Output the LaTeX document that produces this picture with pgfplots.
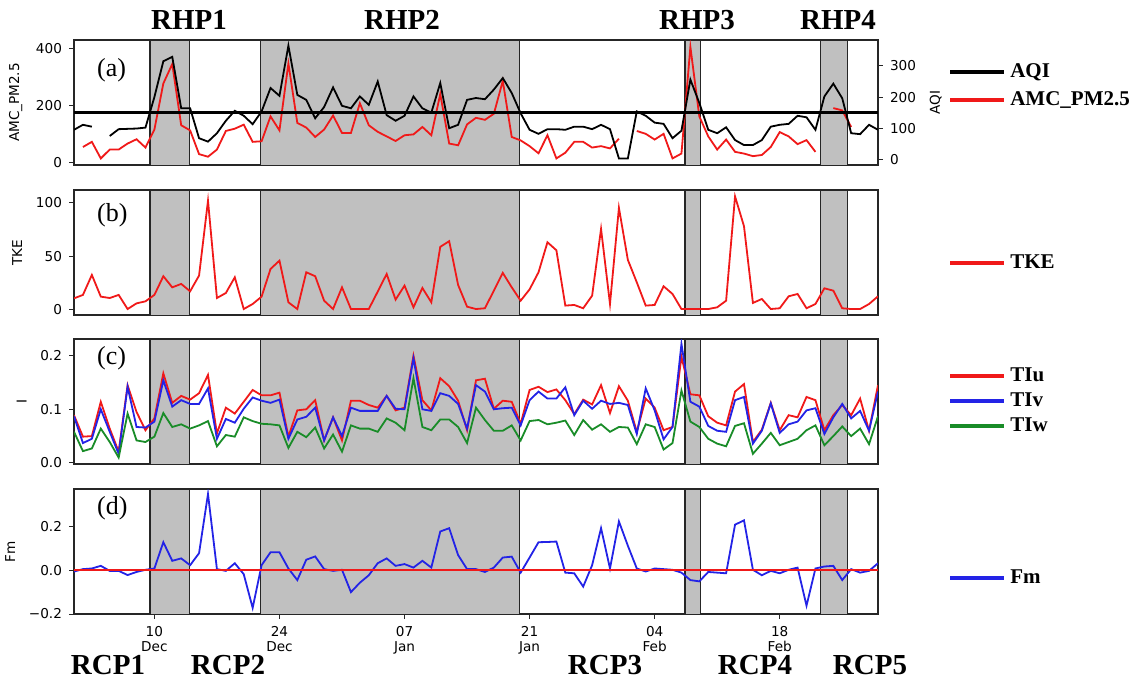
\documentclass[border=0pt]{standalone}
\usepackage{fontspec}
\setmainfont{Liberation Serif}
\newfontfamily\dejavu{DejaVu Sans}
\usepackage{pgfplots}
\pgfplotsset{compat=1.18}
\usepackage{pgfplotstable}
\definecolor{shade}{RGB}{192,192,192}
\definecolor{pred}{RGB}{240,25,25}
\definecolor{pblue}{RGB}{35,35,230}
\definecolor{pgreen}{RGB}{25,140,40}

% day index: 0 = 1 Dec
\pgfplotstableread{
d aqi pm
0 95 nan
1 111 55
2 105 73
3 nan 15
4 75 46
5 97 46
6 98 67
7 99 82
8 102 53
9 200 116
10 315 277
11 329 345
12 164 131
13 164 113
14 68 30
15 57 21
16 84 46
17 124 111
18 156 119
19 140 133
20 113 73
21 154 75
22 229 162
23 204 113
24 365 347
25 207 139
26 191 123
27 132 90
28 168 116
29 231 165
30 172 104
31 164 104
32 202 208
33 175 131
34 250 108
35 142 92
36 124 76
37 140 96
38 202 99
39 164 125
40 150 96
41 245 240
42 100 67
43 111 61
44 191 134
45 197 157
46 193 150
47 224 171
48 261 286
49 213 90
50 148 78
51 95 58
52 82 33
53 97 96
54 97 15
55 95 35
56 105 73
57 105 73
58 97 53
59 111 58
60 97 50
61 3 84
62 3 nan
63 154 111
64 140 101
65 118 81
66 114 101
67 68 15
68 92 32
69 256 405
70 181 162
71 95 92
72 84 46
73 103 81
74 62 38
75 46 32
76 46 23
77 62 27
78 105 55
79 111 107
80 114 92
81 140 65
82 135 79
83 95 38
84 202 nan
85 243 191
86 196 183
87 84 125
88 81 nan
89 111 nan
90 95 nan
}\tabA

\pgfplotstableread{
d tke
0 10.6
1 13.8
2 32.5
3 12.2
4 10.9
5 13.8
6 0.6
7 5.9
8 7.8
9 13.8
10 31.3
11 20.9
12 24.1
13 17.2
14 31.9
15 102
16 10.9
17 15.6
18 30.3
19 0.6
20 5.3
21 12.2
22 38.1
23 45.9
24 6.9
25 0.6
26 35
27 31.3
28 8.4
29 0.6
30 20.9
31 0.6
32 0.6
33 0.6
34 16.9
35 33.4
36 9.4
37 22.5
38 2.2
39 20.3
40 6.9
41 58.8
42 64.1
43 23.1
44 2.8
45 0.6
46 1.3
47 17.8
48 34.4
49 20.9
50 8.4
51 19
52 35
53 63.1
54 55.6
55 3.8
56 4.4
57 1.3
58 13.1
59 75.6
60 5.3
61 95.3
62 46.6
63 25.6
64 3.8
65 4.4
66 21.9
67 14.7
68 0.6
69 0.6
70 0.6
71 0.6
72 2.2
73 8.4
74 106
75 78.1
76 6.3
77 10
78 0.6
79 1.3
80 12.5
81 14.7
82 1.3
83 5.3
84 20
85 17.8
86 1.3
87 0.6
88 0.6
89 5.3
90 12.5
}\tabB

\pgfplotstableread{
d tiu tiv tiw
0 .089 .087 .058
1 .049 .037 .022
2 .050 .045 .027
3 .114 .100 .064
4 .064 .058 .039
5 .021 .017 .010
6 .145 .142 .092
7 .095 .067 .042
8 .061 .066 .039
9 .083 .077 .049
10 .167 .154 .093
11 .112 .105 .067
12 .125 .117 .072
13 .118 .110 .064
14 .130 .110 .070
15 .164 .139 .078
16 .055 .045 .031
17 .103 .082 .052
18 .092 .075 .049
19 .114 .101 .085
20 .136 .122 .078
21 .126 .116 .073
22 .126 .112 .072
23 .131 .118 .070
24 .049 .045 .028
25 .098 .081 .058
26 .100 .086 .048
27 .117 .103 .066
28 .042 .042 .027
29 .085 .085 .053
30 .042 .050 .021
31 .116 .103 .070
32 .116 .097 .064
33 .108 .097 .064
34 .103 .097 .058
35 .125 .125 .083
36 .098 .101 .075
37 .103 .100 .061
38 .200 .195 .158
39 .117 .100 .067
40 .098 .097 .061
41 .158 .130 .081
42 .143 .125 .081
43 .116 .110 .067
44 .061 .064 .037
45 .154 .145 .103
46 .157 .133 .080
47 .101 .100 .060
48 .116 .102 .060
49 .114 .103 .070
50 .073 .070 .042
51 .136 .117 .078
52 .142 .133 .080
53 .132 .120 .072
54 .137 .120 .075
55 .117 .141 .079
56 .091 .089 .052
57 .118 .116 .080
58 .109 .101 .062
59 .145 .116 .072
60 .093 .110 .058
61 .143 .112 .067
62 .116 .108 .066
63 .058 .054 .035
64 .120 .139 .072
65 .103 .098 .067
66 .061 .044 .025
67 .067 .067 .037
68 .198 .222 .135
69 .128 .114 .077
70 .126 .105 .067
71 .087 .069 .045
72 .075 .060 .036
73 .070 .058 .031
74 .133 .117 .069
75 .147 .123 .074
76 .039 .036 .017
77 .062 .060 .036
78 .112 .111 .056
79 .061 .056 .033
80 .089 .072 .039
81 .085 .077 .045
82 .123 .098 .061
83 .117 .102 .070
84 .061 .054 .033
85 .089 .085 .050
86 .108 .110 .068
87 .089 .083 .050
88 .120 .097 .064
89 .060 .060 .035
90 .145 .133 .087
}\tabC

\pgfplotstableread{
d fm
0 -0.006
1 0.005
2 0.008
3 0.020
4 -0.003
5 -0.003
6 -0.022
7 -0.008
8 0.002
9 0.008
10 0.128
11 0.043
12 0.054
13 0.023
14 0.078
15 0.348
16 0.005
17 -0.003
18 0.032
19 -0.018
20 -0.172
21 0.023
22 0.082
23 0.082
24 0.008
25 -0.045
26 0.048
27 0.063
28 0.005
29 -0.003
30 0.002
31 -0.100
32 -0.057
33 -0.023
34 0.032
35 0.054
36 0.020
37 0.028
38 0.012
39 0.043
40 0.012
41 0.177
42 0.192
43 0.069
44 0.005
45 0.005
46 -0.008
47 0.012
48 0.058
49 0.062
50 -0.011
51 0.058
52 0.128
53 0.129
54 0.131
55 -0.011
56 -0.014
57 -0.075
58 0.023
59 0.192
60 0.008
61 0.223
62 0.112
63 0.008
64 -0.006
65 0.008
66 0.005
67 0.002
68 -0.011
69 -0.045
70 -0.051
71 -0.008
72 -0.011
73 -0.014
74 0.208
75 0.228
76 0.002
77 -0.023
78 -0.003
79 -0.014
80 0.002
81 0.012
82 -0.162
83 0.008
84 0.017
85 0.020
86 -0.045
87 0.005
88 -0.011
89 -0.003
90 0.032
}\tabD

\pgfplotsset{
  panel/.style={
    scale only axis, width=402pt, height=62.5pt,
    xmin=0, xmax=90,
    axis line style={black!85, line width=0.6pt},
    tick style={black!85, line width=0.5pt},
    tick align=outside, major tick length=2.5pt,
    tick pos=left,
    xtick=\empty,
    tick label style={font=\dejavu\fontsize{6.8}{7.6}\selectfont},
    label style={font=\dejavu\fontsize{6.8}{7.6}\selectfont},
    /pgf/number format/assume math mode=true,
    unbounded coords=jump,
    every axis plot/.append style={line width=0.9pt},
    legend style={draw=none, fill=none, anchor=west, inner sep=0pt,
      font=\bfseries\fontsize{10.5}{12}\selectfont},
    legend cell align=left,
    legend image code/.code={\draw[##1, line width=2pt] (0pt,0pt) -- (27pt,0pt);},
  },
}

\newcommand{\regions}[2]{%
  \addplot[fill=shade, draw=black!85, line width=0.6pt, forget plot] coordinates {(8.5,#1) (8.5,#2) (12.9,#2) (12.9,#1)};
  \addplot[fill=shade, draw=black!85, line width=0.6pt, forget plot] coordinates {(20.9,#1) (20.9,#2) (49.9,#2) (49.9,#1)};
  \addplot[fill=shade, draw=black!85, line width=0.6pt, forget plot] coordinates {(68.4,#1) (68.4,#2) (70.1,#2) (70.1,#1)};
  \addplot[fill=shade, draw=black!85, line width=0.6pt, forget plot] coordinates {(83.6,#1) (83.6,#2) (86.6,#2) (86.6,#1)};
}

\begin{document}
\begin{tikzpicture}
\path[use as bounding box] (0,0) rectangle (568pt,-341pt);

% (a)
\begin{axis}[panel, at={(37pt,-20pt)}, anchor=north west,
  ymin=-8, ymax=429, ytick={0,200,400}, ylabel={AMC\_PM2.5},
  legend style={at={(1.087,0.632)}, row sep=2pt}]
\regions{-8}{429}
\addplot[pred, forget plot] table[x=d, y=pm] {\tabA};
\addlegendimage{black}\addlegendentry{AQI}
\addlegendimage{pred}\addlegendentry{AMC\_PM2.5}
\node[anchor=west, font=\fontsize{13}{14}\selectfont] at (rel axis cs:0.02,0.76) {(a)};
\end{axis}
\begin{axis}[panel, at={(37pt,-20pt)}, anchor=north west,
  ymin=-18, ymax=383, ytick={0,100,200,300},
  axis y line*=right, axis x line=none, ytick pos=right, ylabel={AQI}]
\addplot[black] table[x=d, y=aqi] {\tabA};
\addplot[black, line width=1.3pt] coordinates {(0,150) (90,150)};
\end{axis}

% (b)
\begin{axis}[panel, at={(37pt,-95pt)}, anchor=north west,
  ymin=-5, ymax=112, ytick={0,50,100}, ylabel={TKE},
  legend style={at={(1.087,0.416)}}]
\regions{-5}{112}
\addplot[pred] table[x=d, y=tke] {\tabB};
\addlegendentry{TKE}
\node[anchor=west, font=\fontsize{13}{14}\selectfont] at (rel axis cs:0.02,0.8) {(b)};
\end{axis}

% (c)
\begin{axis}[panel, at={(37pt,-169.5pt)}, anchor=north west,
  ymin=-0.002, ymax=0.231, ytick={0,0.1,0.2}, yticklabels={0.0,0.1,0.2}, ylabel={I},
  legend style={at={(1.087,0.504)}}]
\regions{-0.002}{0.231}
\addplot[pred] table[x=d, y=tiu] {\tabC};
\addlegendentry{TIu}
\addplot[pblue] table[x=d, y=tiv] {\tabC};
\addlegendentry{TIv}
\addplot[pgreen] table[x=d, y=tiw] {\tabC};
\addlegendentry{TIw}
\node[anchor=west, font=\fontsize{13}{14}\selectfont] at (rel axis cs:0.02,0.85) {(c)};
\end{axis}

% (d)
\begin{axis}[panel, at={(37pt,-244.5pt)}, anchor=north west,
  ymin=-0.2, ymax=0.371, ytick={-0.2,0,0.2}, yticklabels={−0.2,0.0,0.2}, ylabel={Fm},
  xtick={9,23,37,51,65,79},
  xticklabels={10\\Dec,24\\Dec,07\\Jan,21\\Jan,04\\Feb,18\\Feb},
  xticklabel style={align=center},
  legend style={at={(1.087,0.288)}}]
\regions{-0.2}{0.371}
\addplot[pblue] table[x=d, y=fm] {\tabD};
\addlegendentry{Fm}
\addplot[pred, line width=1.2pt, forget plot] coordinates {(0,0.002) (90,0.002)};
\node[anchor=west, font=\fontsize{13}{14}\selectfont] at (rel axis cs:0.02,0.85) {(d)};
\end{axis}

\begin{scope}[font=\bfseries\fontsize{14.5}{16}\selectfont]
\node at (94.5pt,-10pt) {RHP1};
\node at (201pt,-10pt) {RHP2};
\node at (348.5pt,-10pt) {RHP3};
\node at (419pt,-10pt) {RHP4};
\node at (54pt,-332.5pt) {RCP1};
\node at (114pt,-332.5pt) {RCP2};
\node at (302.5pt,-332.5pt) {RCP3};
\node at (377.5pt,-332.5pt) {RCP4};
\node at (435pt,-332.5pt) {RCP5};
\end{scope}
\end{tikzpicture}
\end{document}
